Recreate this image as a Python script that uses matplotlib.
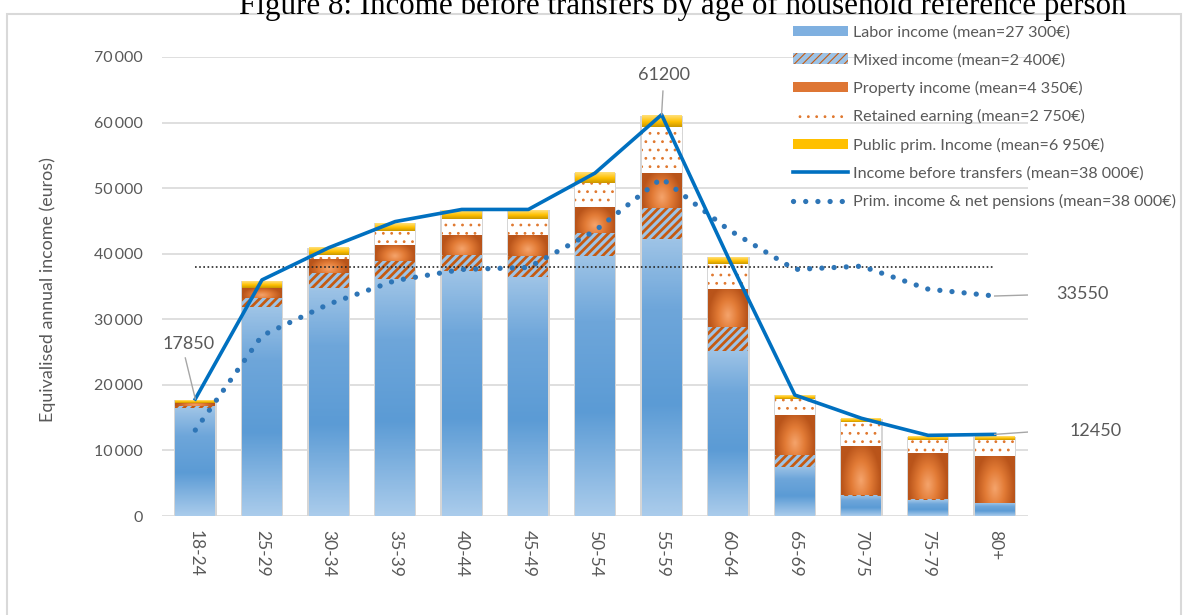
import numpy as np
import matplotlib.pyplot as plt
from matplotlib.colors import LinearSegmentedColormap
from matplotlib.patches import Patch, Rectangle
from matplotlib.lines import Line2D

# Data (euros)
ages = ['18-24', '25-29', '30-34', '35-39', '40-44', '45-49', '50-54',
        '55-59', '60-64', '65-69', '70-75', '75-79', '80+']
labor = [16400, 31800, 34800, 36100, 37300, 36400, 39700, 42300, 25200, 7500, 3100, 2400, 1950]
mixed = [300, 1500, 2200, 2750, 2500, 3250, 3450, 4600, 3550, 1800, 150, 150, 0]
prop = [600, 1500, 2150, 2450, 3100, 3250, 3900, 5350, 5900, 6100, 7450, 7100, 7250]
retained = [0, 0, 650, 2150, 2400, 2400, 3700, 7000, 3800, 2450, 3650, 1950, 2400]
public = [400, 1000, 1100, 1200, 1350, 1350, 1550, 1700, 1000, 550, 500, 500, 500]
income_before = [17850, 36000, 40900, 44900, 46750, 46750, 52300, 61200, 39400, 18450, 14900, 12300, 12450]
prim_pensions = [13100, 27500, 32300, 35900, 37600, 37900, 43500, 51500, 43700, 37600, 38100, 34600, 33550]
mean_income = 38000

legend_labels = ['Labor income (mean=27 300€)', 'Mixed income (mean=2 400€)',
                 'Property income (mean=4 350€)', 'Retained earning (mean=2 750€)',
                 'Public prim. Income (mean=6 950€)', 'Income before transfers (mean=38 000€)',
                 'Prim. income & net pensions (mean=38 000€)']

plt.rcParams['font.family'] = ['Lato', 'DejaVu Sans']
grey = '#595959'

labor_cmap = LinearSegmentedColormap.from_list('labor', [(0, '#A9CBEB'), (0.4, '#5B9BD5'), (0.75, '#6EA6DA'), (1, '#9DC3E6')])
prop_cmap = LinearSegmentedColormap.from_list('prop', ['#F5A46C', '#E27B36', '#B9541A'])
pub_cmap = LinearSegmentedColormap.from_list('pub', [(0, '#C99700'), (0.45, '#FFC000'), (1, '#FFE07A')])


def grad_bar(ax, x, bottom, height, cmap, kind, w=0.6):
    if height <= 0:
        return
    if kind == 'v':
        t = np.linspace(0, 1, 64)[:, None] * np.ones((1, 8))
    else:
        yy, xx = np.mgrid[0:1:64j, 0:1:32j]
        t = np.clip(np.sqrt(((xx - 0.5) / 0.5) ** 2 + ((yy - 0.3) / 0.8) ** 2), 0, 1)
    ax.imshow(t, cmap=cmap, vmin=0, vmax=1, extent=(x - w / 2, x + w / 2, bottom, bottom + height),
              origin='lower', aspect='auto', interpolation='bilinear', zorder=2)


fig = plt.figure(figsize=(11.84, 6.15), dpi=100)
ax = fig.add_axes([162 / 1184, 1 - 516 / 615, 866 / 1184, 459 / 615])

x = np.arange(len(ages))
labor_a = np.array(labor)
mixed_a = np.array(mixed)
prop_a = np.array(prop)
ret_a = np.array(retained)
pub_a = np.array(public)

b1 = labor_a
b2 = b1 + mixed_a
b3 = b2 + prop_a
b4 = b3 + ret_a
total = b4 + pub_a

# soft shadow behind the stacked bars
ax.bar(x, total, width=0.64, color='#D6D6D6', lw=0, zorder=1.9)

for i in x:
    grad_bar(ax, i, 0, labor_a[i], labor_cmap, 'v')
    grad_bar(ax, i, b2[i], prop_a[i], prop_cmap, 'r')
    grad_bar(ax, i, b4[i], pub_a[i], pub_cmap, 'v')

plt.rcParams['hatch.linewidth'] = 2.0
ax.bar(x, mixed_a, bottom=b1, width=0.6, color='#9DC3E6', edgecolor='#C55A11', hatch='////', lw=0, zorder=2)
plt.rcParams['hatch.linewidth'] = 0.8
ax.bar(x, ret_a, bottom=b3, width=0.6, color='white', edgecolor='#E0782F', hatch='..', lw=0, zorder=2)

ax.plot([0, 12], [mean_income, mean_income], color='#262626', lw=1.2, linestyle=(0, (1, 1.5)), zorder=3)
ax.plot(x, prim_pensions, color='#2E75B6', lw=3.8, linestyle=(0, (0.01, 2.3)), dash_capstyle='round', zorder=4)
ax.plot(x, income_before, color='#0070C0', lw=2.6, zorder=5, solid_joinstyle='round')

# value labels with leader lines
lead = dict(color='#A6A6A6', lw=1, zorder=6)
ax.plot([-0.15, 0], [24100, income_before[0]], **lead)
ax.text(-0.1, 26230, '17850', ha='center', va='center', fontsize=13, color=grey)
ax.plot([7.0, 7.02], [income_before[7], 64800], **lead)
ax.text(7.03, 67250, '61200', ha='center', va='center', fontsize=13, color=grey)
ax.plot([12, 12.82], [prim_pensions[12], 33800], **lead)
ax.text(12.92, 33800, '33550', ha='left', va='center', fontsize=13, color=grey)
ax.plot([12, 12.92], [income_before[12], 13100], **lead)
ax.text(13.12, 12900, '12450', ha='left', va='center', fontsize=13, color=grey)

ax.set_xlim(-0.5, 12.5)
ax.set_ylim(0, 70000)
ax.set_yticks(range(0, 70001, 10000))
ax.set_yticklabels(['0' if v == 0 else f'{v // 1000}\u2009000' for v in range(0, 70001, 10000)])
ax.set_xticks(x)
ax.set_xticklabels(ages, rotation=270)
ax.tick_params(axis='both', length=0, colors=grey)
ax.tick_params(axis='y', pad=14, labelsize=11.5)
ax.tick_params(axis='x', pad=10, labelsize=12.5)
ax.yaxis.grid(True, color='#D9D9D9', lw=1.2)
ax.set_axisbelow(True)
for s in ax.spines.values():
    s.set_visible(False)

fig.text(48 / 1184, 1 - 290 / 615, 'Equivalised annual income (euros)', rotation=90,
         ha='center', va='center', fontsize=12.9, color=grey)

handles = [
    Patch(facecolor='#7FB0E0', lw=0),
    Patch(facecolor='#9DC3E6', edgecolor='#C55A11', hatch='////', lw=0),
    Patch(facecolor='#DE7634', lw=0),
    Patch(facecolor='white', edgecolor='#E0782F', hatch='..', lw=0),
    Patch(facecolor='#FFC000', lw=0),
    Line2D([], [], color='#0070C0', lw=2.6),
    Line2D([], [], color='#2E75B6', lw=3.8, linestyle=(0, (0.01, 2.3)), dash_capstyle='round'),
]
fig.legend(handles, legend_labels, loc='upper left', bbox_to_anchor=(793 / 1184, 1 - 25 / 615),
           frameon=False, fontsize=11.6, labelcolor=grey, handlelength=3.4, handleheight=0.6,
           handletextpad=0.3, labelspacing=0.84, borderpad=0, borderaxespad=0)

fig.text(683 / 1184, 1 - 14 / 615, 'Figure 8: Income before transfers by age of household reference person',
         ha='center', va='baseline', fontsize=22.3, family='Liberation Serif', color='black')

fig.add_artist(Rectangle((7 / 1184, -0.02), 1174 / 1184, 1.02 - 14 / 615, transform=fig.transFigure,
                         fill=False, ec='#D9D9D9', lw=1.5))

fig.savefig('out.png', dpi=100)
